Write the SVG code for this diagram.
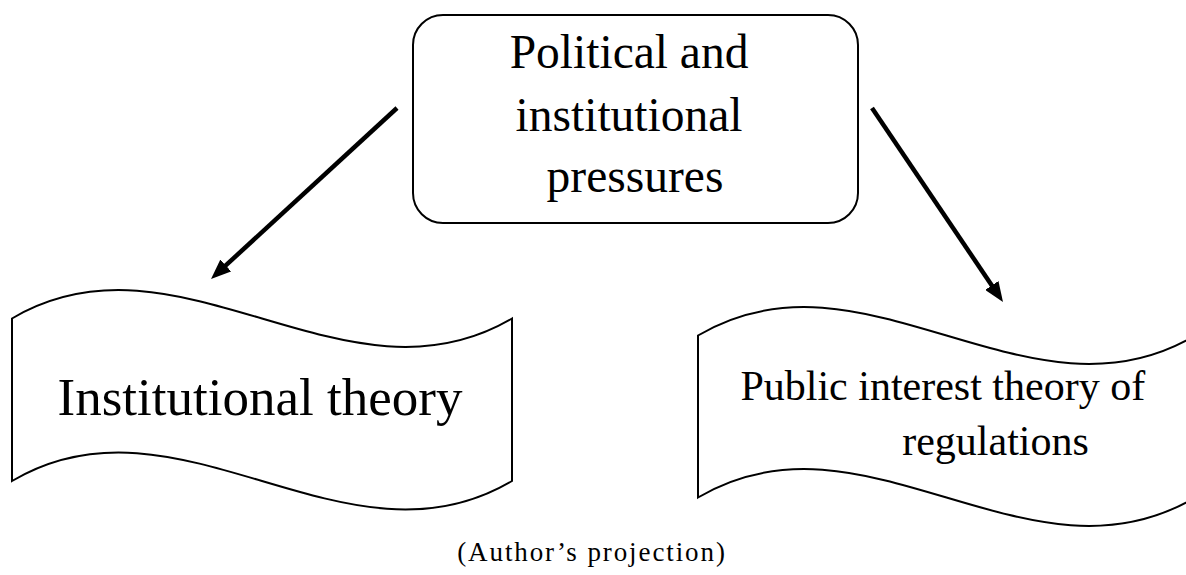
<svg xmlns="http://www.w3.org/2000/svg" width="1186" height="575" viewBox="0 0 1186 575">
  <style>
    .shape { fill: #ffffff; stroke: #000000; stroke-width: 2; }
    .label { font-family: "Liberation Serif", "Times New Roman", serif; fill: #000000; }
    .conn { stroke: #000000; stroke-width: 4.5; fill: none; }
  </style>
  <defs>
    <marker id="arrow" markerUnits="userSpaceOnUse" markerWidth="20" markerHeight="16" refX="10" refY="8" orient="auto">
      <path d="M0,0 L20,8 L0,16 z" fill="#000000"/>
    </marker>
  </defs>
  <rect width="1186" height="575" fill="#ffffff"/>

  <g id="node-pressures">
    <rect class="shape" x="413" y="15" width="445" height="208" rx="30" ry="30"/>
    <text class="label" font-size="47.5" text-anchor="middle">
      <tspan x="635" y="68">Political and</tspan>
      <tspan x="635" y="131">institutional</tspan>
      <tspan x="635" y="192">pressures</tspan>
    </text>
  </g>

  <g id="node-institutional">
    <path class="shape" d="M12,318.5 C178.7,220 345.3,417 512,318.5 L512,481 C345.3,580 178.7,382 12,481 Z"/>
    <text class="label" font-size="53" text-anchor="middle" x="260" y="415">Institutional theory</text>
  </g>

  <g id="node-public-interest">
    <path class="shape" d="M698,335.5 C863.7,237 1029.3,434 1195,335.5 L1195,497.5 C1029.3,596 863.7,399 698,497.5 Z"/>
    <text class="label" font-size="42" text-anchor="middle">
      <tspan x="948" y="400">Public interest theory of</tspan>
      <tspan x="995.5" y="455">regulations</tspan>
    </text>
  </g>

  <g id="connectors">
    <line class="conn" x1="397" y1="108" x2="218.4" y2="272.2" marker-end="url(#arrow)"/>
    <line class="conn" x1="872" y1="108" x2="997.4" y2="293.7" marker-end="url(#arrow)"/>
  </g>

  <text class="label" font-size="27" letter-spacing="1.9" text-anchor="middle" x="592" y="561">(Author’s projection)</text>
</svg>
